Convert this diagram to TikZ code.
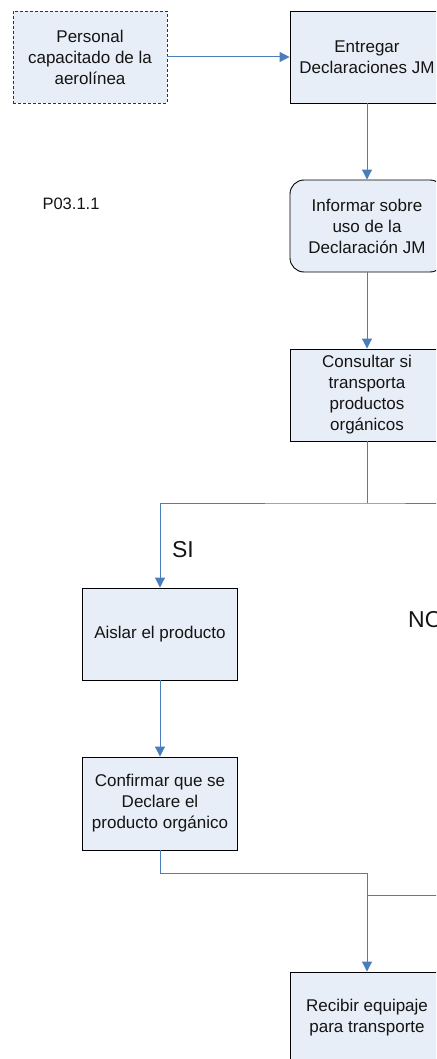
\documentclass[tikz,border=0pt]{standalone}
\usepackage{fontspec}
\setmainfont{Liberation Sans}
\usetikzlibrary{arrows.meta}
\definecolor{boxfill}{RGB}{232,238,247}
\definecolor{conn}{RGB}{74,126,187}
\definecolor{txt}{RGB}{20,20,20}
\tikzset{
  proc/.style={draw=black, line width=0.9pt, fill=boxfill, minimum width=154pt, minimum height=92pt,
    align=center, inner sep=0pt, text=txt, font=\fontsize{17}{21}\selectfont},
  actor/.style={proc, dash pattern=on 3pt off 2pt, draw=black!80},
  rproc/.style={proc, rounded corners=14pt},
  link/.style={draw=conn, line width=1pt},
  arr/.style={link, -{Triangle[length=10pt,width=10pt]}},
  biglabel/.style={font=\fontsize{23}{26}\selectfont, text=txt, inner sep=0pt},
  smalllabel/.style={font=\fontsize{16.5}{20}\selectfont, text=txt, inner sep=0pt}
}
\begin{document}
\begin{tikzpicture}[x=1pt,y=-1pt]
\useasboundingbox (0,0) rectangle (436,1059);
\clip (0,0) rectangle (436,1059);
\node[actor] (pers) at (90,57) {Personal\\capacitado de la\\aerolínea};
\node[proc] (entr) at (367,57) {Entregar\\Declaraciones JM};
\node[rproc] (inf) at (367,226) {Informar sobre\\uso de la\\Declaración JM};
\node[proc] (cons) at (367,395) {Consultar si\\transporta\\productos\\orgánicos};
\node[proc, minimum width=155pt] (ais) at (160,634) {Aislar el producto};
\node[proc, minimum width=155pt, minimum height=93pt] (conf) at (160,803.5) {Confirmar que se\\Declare el\\producto orgánico};
\node[proc] (rec) at (367,1018) {Recibir equipaje\\para transporte};
\node[smalllabel] (p03) at (71,204) {P03.1.1};
\node[biglabel] (si) at (183,550) {SI};
\node[biglabel, anchor=west] (no) at (408,620) {NO};
\coordinate (split) at (367,503);
\coordinate (splitL) at (160,503);
\coordinate (splitR) at (445,503);
\coordinate (joinA) at (160,873);
\coordinate (joinB) at (367,873);
\coordinate (joinC) at (367,895);
\coordinate (joinR) at (445,895);
\draw[arr] (pers.east) -- (entr.west);
\draw[arr] (entr.south) -- (inf.north);
\draw[arr] (inf.south) -- (cons.north);
\draw[link] (cons.south) -- (split);
\draw[arr] (splitR) -- (split) -- (splitL) -- (ais.north);
\draw[arr] (ais.south) -- (conf.north);
\draw[arr] (conf.south) -- (joinA) -- (joinB) -- (rec.north);
\draw[link] (joinC) -- (joinR);
\end{tikzpicture}
\end{document}
